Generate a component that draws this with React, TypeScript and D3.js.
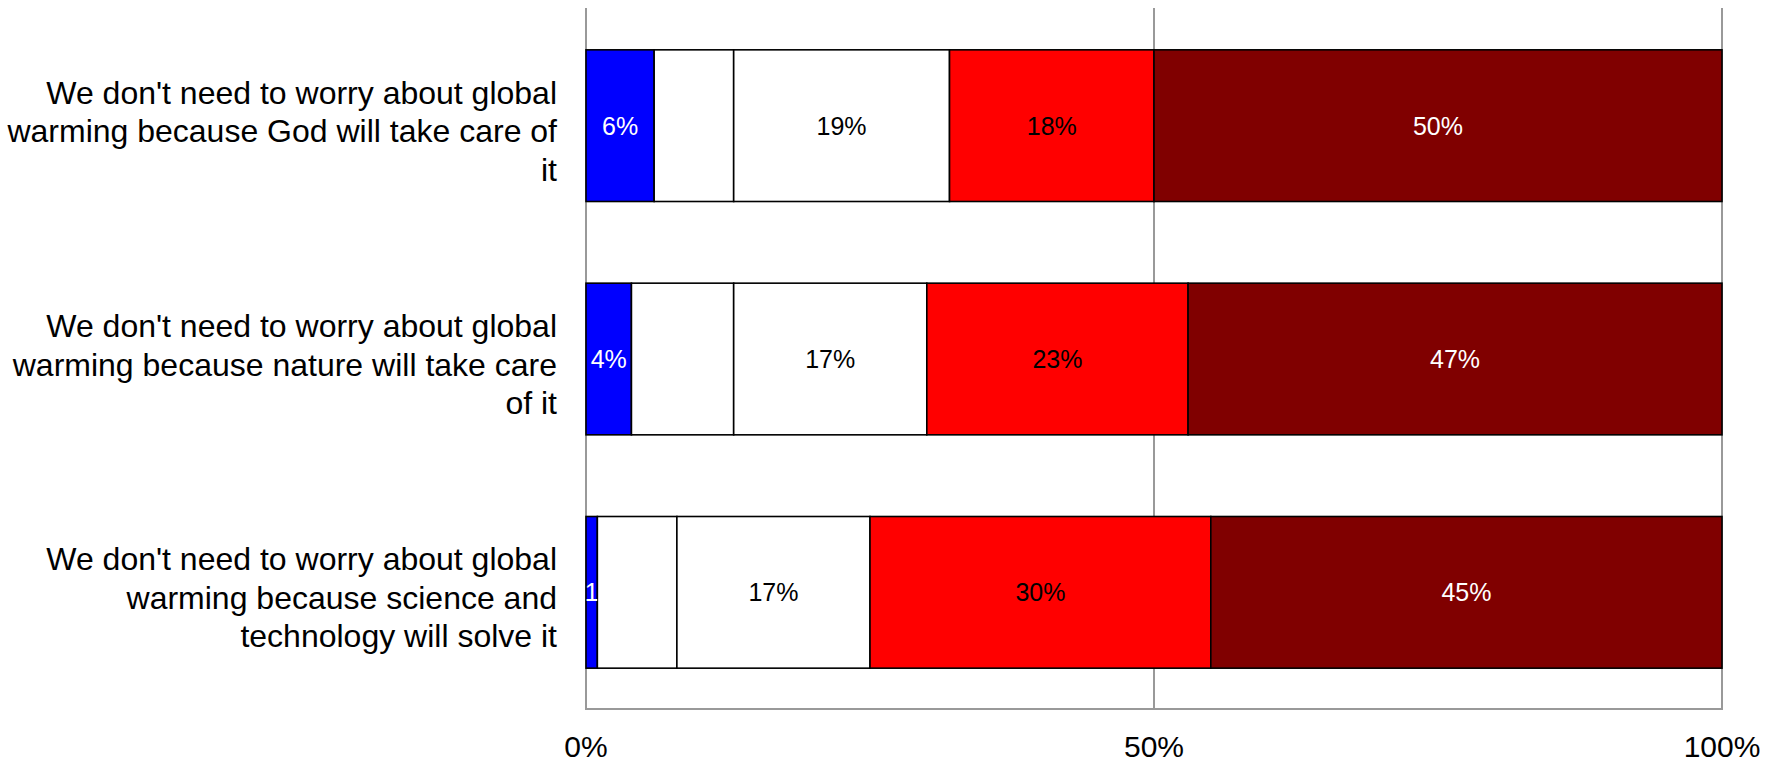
import React, { useMemo } from "react";
import * as d3 from "d3";

// Survey statements (one bar each)
const categories: string[] = [
  "We don't need to worry about global warming because God will take care of it",
  "We don't need to worry about global warming because nature will take care of it",
  "We don't need to worry about global warming because science and technology will solve it",
];

// Response categories, left to right in each bar
const seriesNames: string[] = [
  "Strongly agree",
  "Somewhat agree",
  "Neither agree nor disagree",
  "Somewhat disagree",
  "Strongly disagree",
];
const seriesColors: string[] = ["#0000ff", "#ffffff", "#ffffff", "#ff0000", "#800000"];
// Text colour of each series' value label (null = no label)
const labelColors: (string | null)[] = ["#ffffff", null, "#000000", "#000000", "#ffffff"];

// Percent of respondents, one array per statement, in series order
const godValues: number[] = [6, 7, 19, 18, 50];
const natureValues: number[] = [4, 9, 17, 23, 47];
const scienceValues: number[] = [1, 7, 17, 30, 45];
const valuesByCategory: number[][] = [godValues, natureValues, scienceValues];

// Axis ticks
const tickValues: number[] = [0, 50, 100];

const WIDTH = 1777;
const HEIGHT = 763;
const FONT = "'Liberation Sans', Arial, Helvetica, sans-serif";
const CAT_FONT_SIZE = 32;
const VALUE_FONT_SIZE = 25;
const TICK_FONT_SIZE = 30;

let measureCtx: CanvasRenderingContext2D | null = null;
function textWidth(text: string, size: number): number {
  if (!measureCtx && typeof document !== "undefined") {
    measureCtx = document.createElement("canvas").getContext("2d");
  }
  if (measureCtx) {
    measureCtx.font = `${size}px 'Liberation Sans', Arial, sans-serif`;
    return measureCtx.measureText(text).width;
  }
  return text.length * size * 0.5;
}

function wrapText(text: string, maxWidth: number, size: number): string[] {
  const words = text.split(" ");
  const lines: string[] = [];
  let line = "";
  for (const w of words) {
    const candidate = line ? line + " " + w : w;
    if (line && textWidth(candidate, size) > maxWidth) {
      lines.push(line);
      line = w;
    } else {
      line = candidate;
    }
  }
  if (line) lines.push(line);
  return lines;
}

// Shorten a label until it fits its segment (keeping at least one character)
function fitLabel(text: string, maxWidth: number, size: number): string {
  let t = text;
  while (t.length > 1 && textWidth(t, size) > maxWidth) t = t.slice(0, -1);
  return t;
}

export default function App() {
  const plotLeft = 586;
  const plotRight = 1722;
  const plotTop = 8;
  const plotBottom = 709;

  const x = useMemo(
    () => d3.scaleLinear().domain([0, 100]).range([plotLeft, plotRight]),
    []
  );
  const y = useMemo(
    () =>
      d3
        .scaleBand<string>()
        .domain(categories)
        .range([plotTop + 1, plotBottom])
        .paddingInner(0.35)
        .paddingOuter(0.175),
    []
  );

  const stacked = useMemo(
    () =>
      valuesByCategory.map((vals) => {
        let acc = 0;
        return vals.map((v, i) => {
          const s = { x0: acc, x1: acc + v, value: v, series: i };
          acc += v;
          return s;
        });
      }),
    []
  );

  const bw = y.bandwidth();

  return (
    <svg
      width={WIDTH}
      height={HEIGHT}
      style={{ position: "absolute", left: 0, top: 0, display: "block", background: "#fff" }}
      fontFamily={FONT}
    >
      <defs>
        {stacked.map((segs, ci) =>
          segs.map((s) => (
            <clipPath key={`c-${ci}-${s.series}`} id={`clip-${ci}-${s.series}`}>
              <rect
                x={x(s.x0)}
                y={y(categories[ci])!}
                width={x(s.x1) - x(s.x0)}
                height={bw}
              />
            </clipPath>
          ))
        )}
      </defs>

      {/* vertical gridlines */}
      {tickValues.map((t) => (
        <line
          key={`g-${t}`}
          x1={x(t)}
          x2={x(t)}
          y1={plotTop}
          y2={plotBottom}
          stroke="#999999"
          strokeWidth={2}
        />
      ))}
      {/* baseline */}
      <line
        x1={plotLeft - 1}
        x2={plotRight + 1}
        y1={plotBottom}
        y2={plotBottom}
        stroke="#999999"
        strokeWidth={2}
      />

      {/* stacked bars */}
      {stacked.map((segs, ci) => {
        const y0 = y(categories[ci])!;
        return (
          <g key={`bar-${ci}`}>
            {segs.map((s) => (
              <rect
                key={`r-${s.series}`}
                x={x(s.x0)}
                y={y0}
                width={x(s.x1) - x(s.x0)}
                height={bw}
                fill={seriesColors[s.series]}
                stroke="#000"
                strokeWidth={1.6}
              >
                <title>{`${seriesNames[s.series]}: ${s.value}%`}</title>
              </rect>
            ))}
            {segs.map((s) => {
              const color = labelColors[s.series];
              if (!color) return null;
              const segW = x(s.x1) - x(s.x0);
              const label = fitLabel(`${s.value}%`, segW, VALUE_FONT_SIZE);
              return (
                <text
                  key={`t-${s.series}`}
                  x={(x(s.x0) + x(s.x1)) / 2}
                  y={y0 + bw / 2 + 9}
                  textAnchor="middle"
                  fontSize={VALUE_FONT_SIZE}
                  fill={color}
                  clipPath={`url(#clip-${ci}-${s.series})`}
                >
                  {label}
                </text>
              );
            })}
          </g>
        );
      })}

      {/* category labels */}
      {categories.map((c) => {
        const lines = wrapText(c, 556, CAT_FONT_SIZE);
        const center = y(c)! + bw / 2;
        const lineH = 38.5;
        const first = center + 16.5 - ((lines.length - 1) / 2) * lineH;
        return (
          <text key={c} textAnchor="end" fontSize={CAT_FONT_SIZE} fill="#000">
            {lines.map((l, i) => (
              <tspan key={i} x={557} y={first + i * lineH}>
                {l}
              </tspan>
            ))}
          </text>
        );
      })}

      {/* x-axis tick labels */}
      {tickValues.map((t) => (
        <text
          key={`tl-${t}`}
          x={x(t)}
          y={757}
          textAnchor="middle"
          fontSize={TICK_FONT_SIZE}
          fill="#000"
        >
          {`${t}%`}
        </text>
      ))}
    </svg>
  );
}
